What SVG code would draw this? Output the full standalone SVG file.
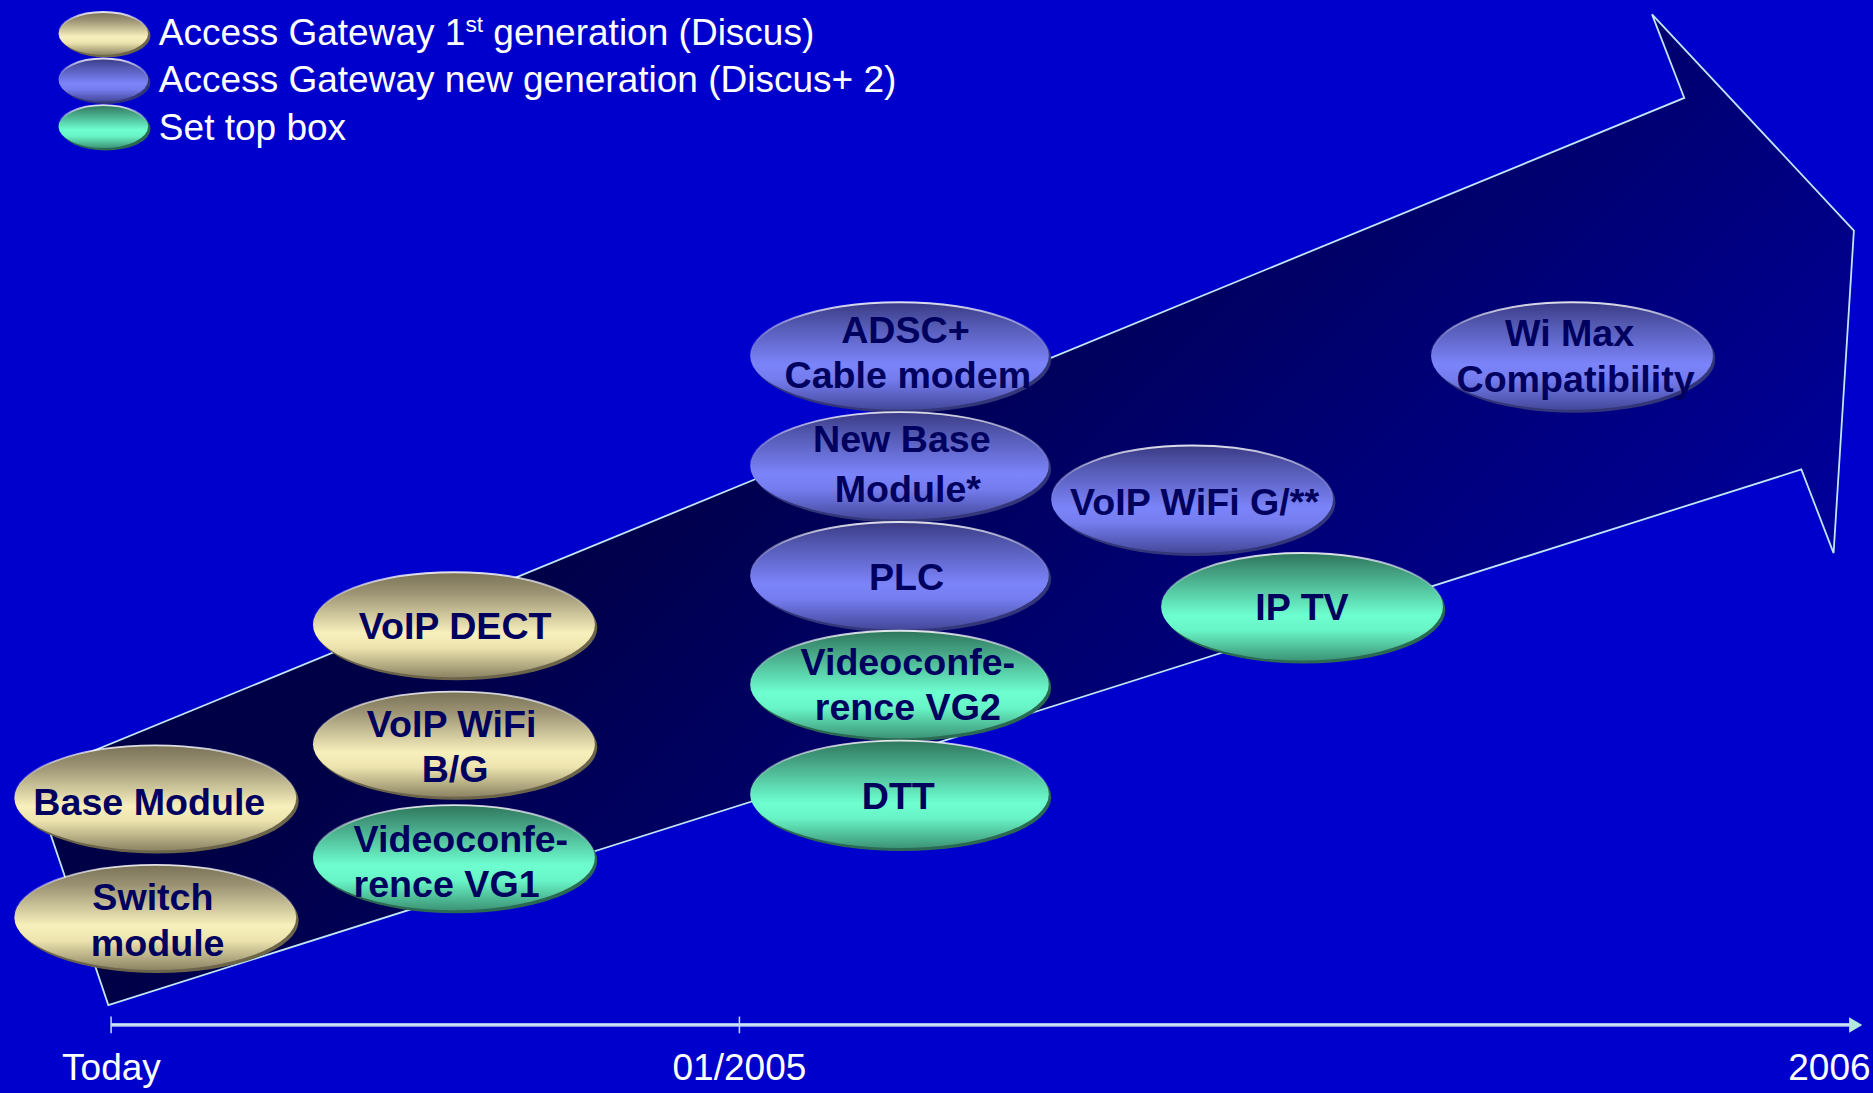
<svg xmlns="http://www.w3.org/2000/svg" width="1873" height="1093" viewBox="0 0 1873 1093">
<defs>
<linearGradient id="gArrow" gradientUnits="userSpaceOnUse" x1="450" y1="450" x2="1000" y2="1000">
<stop offset="0" stop-color="#000046"/>
<stop offset="1" stop-color="#00009c"/>
</linearGradient>
<linearGradient id="gY" x1="0" y1="0" x2="0" y2="1">
<stop offset="0" stop-color="#7a7257"/>
<stop offset="0.2" stop-color="#9c9474"/>
<stop offset="0.58" stop-color="#f8f0bc"/>
<stop offset="0.72" stop-color="#ece3ae"/>
<stop offset="1" stop-color="#8c8464"/>
</linearGradient>
<linearGradient id="gB" x1="0" y1="0" x2="0" y2="1">
<stop offset="0" stop-color="#3a3a84"/>
<stop offset="0.2" stop-color="#5358b0"/>
<stop offset="0.58" stop-color="#7c84fa"/>
<stop offset="0.72" stop-color="#747cee"/>
<stop offset="1" stop-color="#44489a"/>
</linearGradient>
<linearGradient id="gG" x1="0" y1="0" x2="0" y2="1">
<stop offset="0" stop-color="#2e765c"/>
<stop offset="0.2" stop-color="#46a484"/>
<stop offset="0.58" stop-color="#6effd0"/>
<stop offset="0.72" stop-color="#68f4c6"/>
<stop offset="1" stop-color="#3c9476"/>
</linearGradient>
<linearGradient id="rim" x1="0" y1="0" x2="0" y2="1">
<stop offset="0" stop-color="#ffffff" stop-opacity="0.85"/>
<stop offset="0.3" stop-color="#ffffff" stop-opacity="0.25"/>
<stop offset="0.5" stop-color="#ffffff" stop-opacity="0"/>
</linearGradient>
</defs>
<style>
.bg{fill:#0000cc}
.sy{fill:#6c654a}
.sb{fill:#33377a}
.sg{fill:#2a6a52}
.ey{fill:url(#gY)}
.eb{fill:url(#gB)}
.eg{fill:url(#gG)}
.rim{fill:none;stroke:url(#rim);stroke-width:1.6}
.lbl{font-family:"Liberation Sans",Arial,sans-serif;font-weight:bold;font-size:31.5px;fill:#00005e;text-anchor:middle}
.lbls{font-family:"Liberation Sans",Arial,sans-serif;font-weight:bold;font-size:31.5px;fill:#00005e;text-anchor:start}
.leg{font-family:"Liberation Sans",Arial,sans-serif;font-size:31px;fill:#ffffff}
.axis{font-family:"Liberation Sans",Arial,sans-serif;font-size:31px;fill:#ffffff}
.tl{stroke:#9cbff0;stroke-width:3;fill:none}
.tli{stroke:#e4f2ff;stroke-width:0.9;fill:none}
</style>
<rect class="bg" x="0" y="0" width="1873" height="1093"/>
<g transform="scale(1.19452)">
<g id="big-arrow">
<polygon points="26,650 1410,82 1383,12 1552,193 1535,463 1508,393 90.7,841.4" fill="url(#gArrow)" stroke="#bfe6f5" stroke-width="1.5" stroke-linejoin="miter"/>
</g>
<g id="connectors">
<g id="timeline">
<line class="tl" x1="93" y1="858" x2="1550" y2="858"/>
<line class="tli" x1="93" y1="858" x2="1550" y2="858"/>
<line x1="93" y1="851" x2="93" y2="865" stroke="#bcd8f8" stroke-width="1.3"/>
<line x1="619" y1="851" x2="619" y2="865" stroke="#bcd8f8" stroke-width="1.3"/>
<polygon points="1548,851.5 1559,858 1548,864.5" fill="#b4e6e0"/>
</g>
</g>
<g id="axis-labels">
<text class="axis" x="52" y="904">Today</text>
<text class="axis" x="619" y="904" text-anchor="middle">01/2005</text>
<text class="axis" x="1566" y="904" text-anchor="end">2006</text>
</g>
<g id="legend">
<g id="legend-1">
<ellipse class="sy" cx="88.5" cy="30" rx="37.5" ry="18"/>
<ellipse class="ey" cx="86.5" cy="28" rx="37.5" ry="18"/>
<ellipse class="rim" cx="86.5" cy="28" rx="37.5" ry="18"/>
<text class="leg" x="133" y="38">Access Gateway 1<tspan font-size="19" dy="-11">st</tspan><tspan dy="11"> generation (Discus)</tspan></text>
</g>
<g id="legend-2">
<ellipse class="sb" cx="88.5" cy="69" rx="37.5" ry="18"/>
<ellipse class="eb" cx="86.5" cy="67" rx="37.5" ry="18"/>
<ellipse class="rim" cx="86.5" cy="67" rx="37.5" ry="18"/>
<text class="leg" x="133" y="77">Access Gateway new generation (Discus+ 2)</text>
</g>
<g id="legend-3">
<ellipse class="sg" cx="88.5" cy="108" rx="37.5" ry="18"/>
<ellipse class="eg" cx="86.5" cy="106" rx="37.5" ry="18"/>
<ellipse class="rim" cx="86.5" cy="106" rx="37.5" ry="18"/>
<text class="leg" x="133" y="117">Set top box</text>
</g>
</g>
<g id="node-base-module">
<ellipse class="sy" cx="132" cy="670.5" rx="118" ry="44"/>
<ellipse class="ey" cx="130" cy="668" rx="118" ry="44"/>
<ellipse class="rim" cx="130" cy="668" rx="118" ry="44"/>
<text class="lbl" x="125" y="682">Base Module</text>
</g>
<g id="node-switch-module">
<ellipse class="sy" cx="132" cy="770.5" rx="118" ry="44"/>
<ellipse class="ey" cx="130" cy="768" rx="118" ry="44"/>
<ellipse class="rim" cx="130" cy="768" rx="118" ry="44"/>
<text class="lbl" x="128" y="762">Switch</text>
<text class="lbl" x="132" y="800">module</text>
</g>
<g id="node-voip-dect">
<ellipse class="sy" cx="382" cy="525.5" rx="118" ry="44"/>
<ellipse class="ey" cx="380" cy="523" rx="118" ry="44"/>
<ellipse class="rim" cx="380" cy="523" rx="118" ry="44"/>
<text class="lbl" x="381" y="535">VoIP DECT</text>
</g>
<g id="node-voip-wifi-bg">
<ellipse class="sy" cx="382" cy="625.5" rx="118" ry="44"/>
<ellipse class="ey" cx="380" cy="623" rx="118" ry="44"/>
<ellipse class="rim" cx="380" cy="623" rx="118" ry="44"/>
<text class="lbl" x="378" y="617">VoIP WiFi</text>
<text class="lbl" x="381" y="655">B/G</text>
</g>
<g id="node-videoconference-vg1">
<ellipse class="sg" cx="382" cy="720.5" rx="118" ry="44"/>
<ellipse class="eg" cx="380" cy="718" rx="118" ry="44"/>
<ellipse class="rim" cx="380" cy="718" rx="118" ry="44"/>
<text class="lbls" x="296" y="713">Videoconfe-</text>
<text class="lbls" x="296" y="751">rence VG1</text>
</g>
<g id="node-adsc-cable-modem">
<ellipse class="sb" cx="755" cy="300.5" rx="125" ry="45"/>
<ellipse class="eb" cx="753" cy="298" rx="125" ry="45"/>
<ellipse class="rim" cx="753" cy="298" rx="125" ry="45"/>
<text class="lbl" x="758" y="287">ADSC+</text>
<text class="lbl" x="760" y="325">Cable modem</text>
</g>
<g id="node-new-base-module">
<ellipse class="sb" cx="755" cy="392.5" rx="125" ry="45"/>
<ellipse class="eb" cx="753" cy="390" rx="125" ry="45"/>
<ellipse class="rim" cx="753" cy="390" rx="125" ry="45"/>
<text class="lbl" x="755" y="378">New Base</text>
<text class="lbl" x="760" y="420">Module*</text>
</g>
<g id="node-plc">
<ellipse class="sb" cx="755" cy="484.5" rx="125" ry="45"/>
<ellipse class="eb" cx="753" cy="482" rx="125" ry="45"/>
<ellipse class="rim" cx="753" cy="482" rx="125" ry="45"/>
<text class="lbl" x="759" y="494">PLC</text>
</g>
<g id="node-videoconference-vg2">
<ellipse class="sg" cx="755" cy="575.5" rx="125" ry="45"/>
<ellipse class="eg" cx="753" cy="573" rx="125" ry="45"/>
<ellipse class="rim" cx="753" cy="573" rx="125" ry="45"/>
<text class="lbl" x="760" y="565">Videoconfe-</text>
<text class="lbl" x="760" y="603">rence VG2</text>
</g>
<g id="node-dtt">
<ellipse class="sg" cx="755" cy="667.5" rx="125" ry="45"/>
<ellipse class="eg" cx="753" cy="665" rx="125" ry="45"/>
<ellipse class="rim" cx="753" cy="665" rx="125" ry="45"/>
<text class="lbl" x="752" y="677">DTT</text>
</g>
<g id="node-voip-wifi-g">
<ellipse class="sb" cx="1000" cy="420.5" rx="118" ry="45"/>
<ellipse class="eb" cx="998" cy="418" rx="118" ry="45"/>
<ellipse class="rim" cx="998" cy="418" rx="118" ry="45"/>
<text class="lbl" x="1000" y="431">VoIP WiFi G/**</text>
</g>
<g id="node-ip-tv">
<ellipse class="sg" cx="1092" cy="510.5" rx="118" ry="45"/>
<ellipse class="eg" cx="1090" cy="508" rx="118" ry="45"/>
<ellipse class="rim" cx="1090" cy="508" rx="118" ry="45"/>
<text class="lbl" x="1090" y="519">IP TV</text>
</g>
<g id="node-wi-max">
<ellipse class="sb" cx="1318" cy="300.5" rx="118" ry="45"/>
<ellipse class="eb" cx="1316" cy="298" rx="118" ry="45"/>
<ellipse class="rim" cx="1316" cy="298" rx="118" ry="45"/>
<text class="lbl" x="1314" y="290">Wi Max</text>
<text class="lbl" x="1319" y="328">Compatibility</text>
</g>
</g>
</svg>
